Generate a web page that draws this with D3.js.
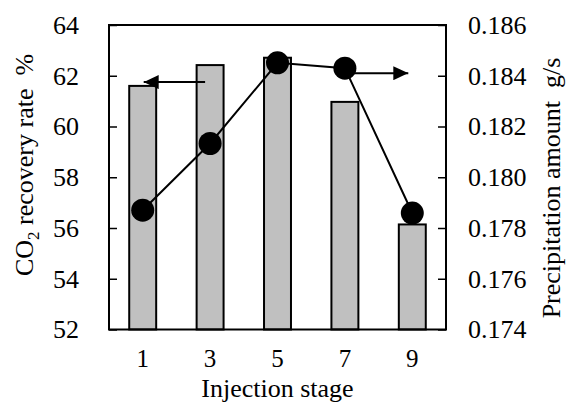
<!DOCTYPE html>
<html>
<head>
<meta charset="utf-8">
<script src="https://cdn.jsdelivr.net/npm/d3@7"></script>
<style>
  body { margin: 0; background: #fff; }
  text { font-family: "Liberation Serif", "Times New Roman", serif; fill: #000; }
</style>
</head>
<body>
<script>
// data
var stages = ["1", "3", "5", "7", "9"];
var recoveryRate = [61.6, 62.42, 62.71, 60.97, 56.14];      // bars, left axis (%)
var precipitation = [0.1787, 0.18133, 0.18451, 0.1843, 0.17859]; // points, right axis (g/s)
var leftTicks = [52, 54, 56, 58, 60, 62, 64];
var rightTicks = [0.174, 0.176, 0.178, 0.180, 0.182, 0.184, 0.186];

var width = 567, height = 405;
var margin = {top: 25, right: 121, bottom: 75.5, left: 109};
var fs = 26;

var svg = d3.select("body").append("svg")
    .attr("width", width)
    .attr("height", height);

var x = d3.scaleBand()
    .domain(stages)
    .range([margin.left, width - margin.right])
    .paddingInner(0.6)
    .paddingOuter(0.3);

var yL = d3.scaleLinear()
    .domain([52, 64])
    .range([height - margin.bottom, margin.top]);

var yR = d3.scaleLinear()
    .domain([0.174, 0.186])
    .range([height - margin.bottom, margin.top]);

var defs = svg.append("defs");
defs.append("marker")
    .attr("id", "head")
    .attr("viewBox", "0 0 15 14")
    .attr("refX", 15)
    .attr("refY", 7)
    .attr("markerWidth", 15)
    .attr("markerHeight", 14)
    .attr("markerUnits", "userSpaceOnUse")
    .attr("orient", "auto")
    .append("path")
    .attr("d", "M0,0 L15,7 L0,14 Z")
    .attr("fill", "#000");

// bars
svg.selectAll(".bar")
    .data(stages)
    .enter()
    .append("rect")
    .attr("class", "bar")
    .attr("x", function(d) { return x(d); })
    .attr("width", x.bandwidth())
    .attr("y", function(d, i) { return yL(recoveryRate[i]); })
    .attr("height", function(d, i) { return yL(52) - yL(recoveryRate[i]); })
    .attr("fill", "#c0c0c0")
    .attr("stroke", "#000")
    .attr("stroke-width", 2);

// left axis, ticks inside
var leftAxis = svg.append("g")
    .attr("transform", "translate(" + margin.left + ",0)")
    .call(d3.axisRight(yL).tickValues(leftTicks).tickSize(8).tickFormat(""));
leftAxis.select(".domain").remove();
leftAxis.selectAll("line").attr("stroke-width", 1.5);

svg.selectAll(".lt")
    .data(leftTicks)
    .enter()
    .append("text")
    .attr("class", "lt")
    .attr("x", 79)
    .attr("y", function(d) { return yL(d); })
    .attr("dy", "0.34em")
    .attr("text-anchor", "end")
    .style("font-size", fs + "px")
    .text(function(d) { return d; });

// right axis, ticks inside
var rightAxis = svg.append("g")
    .attr("transform", "translate(" + (width - margin.right) + ",0)")
    .call(d3.axisLeft(yR).tickValues(rightTicks).tickSize(8).tickFormat(""));
rightAxis.select(".domain").remove();
rightAxis.selectAll("line").attr("stroke-width", 1.5);

svg.selectAll(".rt")
    .data(rightTicks)
    .enter()
    .append("text")
    .attr("class", "rt")
    .attr("x", 468)
    .attr("y", function(d) { return yR(d); })
    .attr("dy", "0.34em")
    .style("font-size", fs + "px")
    .text(function(d) { return d3.format(".3f")(d); });

// frame
svg.append("rect")
    .attr("x", margin.left)
    .attr("y", margin.top)
    .attr("width", width - margin.left - margin.right)
    .attr("height", height - margin.top - margin.bottom)
    .attr("fill", "none")
    .attr("stroke", "#000")
    .attr("stroke-width", 2);

// x labels
svg.selectAll(".xt")
    .data(stages)
    .enter()
    .append("text")
    .attr("class", "xt")
    .attr("x", function(d) { return x(d) + x.bandwidth() / 2; })
    .attr("y", 367)
    .attr("text-anchor", "middle")
    .style("font-size", "25px")
    .text(function(d) { return d; });

// precipitation line + markers
var line = d3.line()
    .x(function(d) { return x(d) + x.bandwidth() / 2; })
    .y(function(d, i) { return yR(precipitation[i]); });

svg.append("path")
    .datum(stages)
    .attr("d", line)
    .attr("fill", "none")
    .attr("stroke", "#000")
    .attr("stroke-width", 2);

svg.selectAll(".dot")
    .data(stages)
    .enter()
    .append("circle")
    .attr("class", "dot")
    .attr("cx", function(d) { return x(d) + x.bandwidth() / 2; })
    .attr("cy", function(d, i) { return yR(precipitation[i]); })
    .attr("r", 11.5)
    .attr("fill", "#000");

// arrows pointing to their axis
var cx = function(s) { return x(s) + x.bandwidth() / 2; };
svg.append("line")
    .attr("x1", cx("3") - 5).attr("x2", cx("1") + 1)
    .attr("y1", yL(61.75)).attr("y2", yL(61.75))
    .attr("stroke", "#000").attr("stroke-width", 2)
    .attr("marker-end", "url(#head)");
svg.append("line")
    .attr("x1", cx("7") + 8).attr("x2", cx("9") - 4)
    .attr("y1", yR(0.1841)).attr("y2", yR(0.1841))
    .attr("stroke", "#000").attr("stroke-width", 2)
    .attr("marker-end", "url(#head)");

// axis titles
var lt = svg.append("text")
    .attr("transform", "translate(33,165) rotate(-90)")
    .attr("text-anchor", "middle")
    .attr("xml:space", "preserve")
    .style("font-size", fs + "px");
lt.append("tspan").text("CO");
lt.append("tspan").attr("dy", 6).style("font-size", "17px").text("2");
lt.append("tspan").attr("dy", -6).text(" recovery rate  %");

svg.append("text")
    .attr("transform", "translate(560,188) rotate(-90)")
    .attr("text-anchor", "middle")
    .attr("xml:space", "preserve")
    .style("font-size", fs + "px")
    .text("Precipitation amount  g/s");

svg.append("text")
    .attr("x", (margin.left + width - margin.right) / 2)
    .attr("y", 397)
    .attr("text-anchor", "middle")
    .style("font-size", fs + "px")
    .text("Injection stage");
</script>
</body>
</html>
